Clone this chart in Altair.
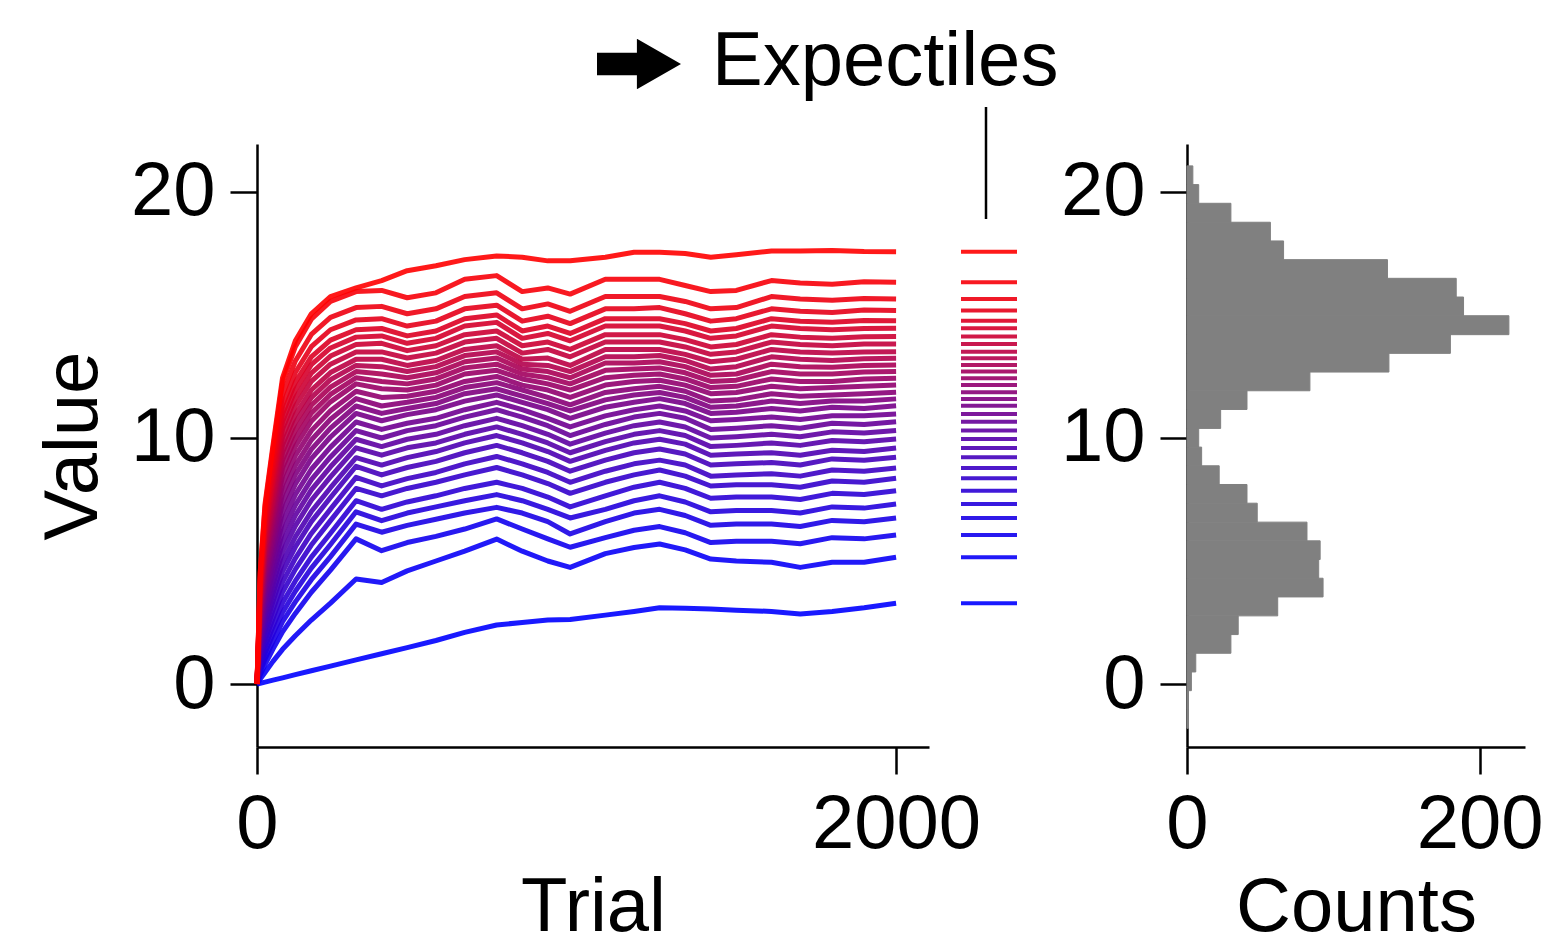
import altair as alt
import pandas as pd

# ---------------- data ----------------
TRIALS = [0, 10, 25, 50, 80, 120, 170, 230, 310, 390, 470, 560, 650, 750, 830,
          910, 980, 1090, 1180, 1260, 1340, 1420, 1500, 1610, 1700, 1800, 1900, 2000]

LINES = [
    [0, 0.03, 0.08, 0.16, 0.25, 0.38, 0.54, 0.73, 0.98, 1.23, 1.48, 1.77, 2.1, 2.4, 2.5, 2.6, 2.62, 2.8, 2.95, 3.1, 3.08, 3.05, 3.0, 2.95, 2.85, 2.95, 3.1, 3.28],
    [0, 0.20, 0.47, 0.92, 1.41, 1.96, 2.60, 3.29, 4.27, 4.13, 4.6, 5.0, 5.4, 5.89, 5.4, 5.0, 4.74, 5.3, 5.55, 5.69, 5.45, 5.08, 5.0, 4.95, 4.74, 4.95, 4.95, 5.15],
    [0, 0.37, 0.79, 1.42, 2.12, 2.87, 3.73, 4.63, 5.9, 5.42, 5.75, 6.0, 6.3, 6.71, 6.3, 5.9, 5.56, 5.95, 6.25, 6.4, 6.15, 5.75, 5.8, 5.8, 5.7, 5.95, 5.9, 6.06],
    [0, 0.51, 1.01, 1.73, 2.53, 3.34, 4.24, 5.18, 6.5, 6.17, 6.45, 6.7, 6.95, 7.18, 6.95, 6.6, 6.10, 6.6, 6.95, 7.1, 6.85, 6.45, 6.5, 6.5, 6.4, 6.65, 6.6, 6.75],
    [0, 0.65, 1.24, 2.03, 2.91, 3.77, 4.71, 5.67, 7.0, 6.64, 6.95, 7.2, 7.45, 7.7, 7.45, 7.1, 6.75, 7.1, 7.45, 7.65, 7.4, 7.0, 7.05, 7.05, 6.95, 7.2, 7.15, 7.32],
    [0, 0.80, 1.47, 2.34, 3.30, 4.19, 5.16, 6.13, 7.45, 7.1, 7.4, 7.65, 7.95, 8.2, 7.95, 7.6, 7.2, 7.65, 8.0, 8.2, 7.95, 7.55, 7.6, 7.6, 7.5, 7.75, 7.7, 7.86],
    [0, 0.96, 1.73, 2.67, 3.73, 4.66, 5.65, 6.64, 7.95, 7.65, 7.95, 8.2, 8.5, 8.8, 8.5, 8.15, 7.75, 8.2, 8.5, 8.7, 8.45, 8.05, 8.1, 8.1, 8.0, 8.25, 8.2, 8.36],
    [0, 1.12, 1.98, 3.01, 4.14, 5.11, 6.12, 7.11, 8.4, 8.05, 8.35, 8.6, 8.95, 9.25, 8.95, 8.6, 8.2, 8.65, 8.95, 9.1, 8.9, 8.45, 8.5, 8.55, 8.45, 8.7, 8.65, 8.78],
    [0, 1.29, 2.25, 3.35, 4.57, 5.57, 6.60, 7.58, 8.85, 8.5, 8.8, 9.05, 9.4, 9.7, 9.4, 9.05, 8.65, 9.1, 9.4, 9.55, 9.35, 8.9, 8.95, 9.0, 8.9, 9.15, 9.1, 9.22],
    [0, 1.45, 2.50, 3.66, 4.96, 5.98, 7.01, 7.98, 9.2, 8.9, 9.2, 9.45, 9.8, 10.1, 9.8, 9.45, 9.05, 9.5, 9.8, 9.95, 9.75, 9.3, 9.35, 9.4, 9.3, 9.5, 9.45, 9.59],
    [0, 1.62, 2.77, 4.00, 5.38, 6.43, 7.47, 8.42, 9.6, 9.3, 9.6, 9.8, 10.15, 10.45, 10.15, 9.8, 9.4, 9.85, 10.15, 10.3, 10.1, 9.65, 9.7, 9.8, 9.7, 9.9, 9.85, 9.96],
    [0, 1.79, 3.02, 4.33, 5.78, 6.85, 7.89, 8.83, 9.95, 9.65, 9.95, 10.15, 10.5, 10.8, 10.5, 10.15, 9.75, 10.2, 10.5, 10.65, 10.45, 10.0, 10.05, 10.15, 10.05, 10.25, 10.2, 10.30],
    [0, 1.96, 3.29, 4.65, 6.19, 7.27, 8.31, 9.23, 10.3, 10.0, 10.3, 10.5, 10.85, 11.15, 10.85, 10.5, 10.1, 10.55, 10.85, 11.0, 10.8, 10.35, 10.4, 10.5, 10.4, 10.6, 10.55, 10.66],
    [0, 2.13, 3.55, 4.98, 6.59, 7.70, 8.73, 9.63, 10.65, 10.35, 10.6, 10.8, 11.15, 11.45, 11.15, 10.8, 10.45, 10.9, 11.15, 11.3, 11.1, 10.7, 10.75, 10.85, 10.75, 10.9, 10.9, 10.98],
    [0, 2.30, 3.81, 5.31, 7.00, 8.12, 9.16, 10.04, 11.0, 10.7, 10.95, 11.15, 11.5, 11.75, 11.45, 11.15, 10.8, 11.25, 11.45, 11.6, 11.4, 11.0, 11.05, 11.2, 11.1, 11.25, 11.2, 11.31],
    [0, 2.46, 4.06, 5.62, 7.37, 8.51, 9.54, 10.40, 11.3, 11.0, 11.2, 11.4, 11.8, 12.0, 11.7, 11.4, 11.1, 11.55, 11.75, 11.85, 11.65, 11.25, 11.3, 11.5, 11.4, 11.5, 11.5, 11.59],
    [0, 2.62, 4.30, 5.92, 7.74, 8.89, 9.92, 10.76, 11.6, 11.3, 11.45, 11.65, 12.05, 12.25, 11.95, 11.65, 11.35, 11.85, 12.0, 12.1, 11.9, 11.5, 11.55, 11.8, 11.7, 11.75, 11.8, 11.86],
    [0, 2.78, 4.54, 6.22, 8.11, 9.28, 10.30, 11.11, 11.9, 11.65, 11.7, 11.9, 12.3, 12.5, 12.15, 11.95, 11.65, 12.15, 12.3, 12.35, 12.15, 11.8, 11.85, 12.1, 12.0, 12.05, 12.1, 12.15],
    [0, 2.93, 4.78, 6.52, 8.48, 9.66, 10.68, 11.47, 12.2, 12.0, 11.95, 12.15, 12.6, 12.75, 12.4, 12.2, 11.95, 12.45, 12.55, 12.6, 12.4, 12.05, 12.1, 12.4, 12.3, 12.3, 12.4, 12.43],
    [0, 3.07, 4.99, 6.78, 8.80, 9.99, 11.01, 11.77, 12.45, 12.3, 12.2, 12.4, 12.85, 13.0, 12.6, 12.45, 12.2, 12.75, 12.8, 12.85, 12.65, 12.3, 12.35, 12.7, 12.6, 12.6, 12.68, 12.70],
    [0, 3.20, 5.20, 7.04, 9.11, 10.32, 11.33, 12.07, 12.7, 12.6, 12.45, 12.65, 13.1, 13.25, 12.8, 12.7, 12.45, 13.05, 13.05, 13.1, 12.9, 12.55, 12.6, 13.0, 12.9, 12.88, 12.95, 12.97],
    [0, 3.34, 5.40, 7.29, 9.42, 10.64, 11.64, 12.37, 12.95, 12.9, 12.7, 12.9, 13.35, 13.5, 13.0, 12.95, 12.7, 13.3, 13.3, 13.35, 13.15, 12.8, 12.9, 13.3, 13.2, 13.15, 13.22, 13.24],
    [0, 3.46, 5.60, 7.53, 9.72, 10.95, 11.95, 12.66, 13.2, 13.2, 12.95, 13.15, 13.6, 13.75, 13.2, 13.25, 12.95, 13.6, 13.6, 13.6, 13.4, 13.1, 13.2, 13.6, 13.5, 13.45, 13.5, 13.51],
    [0, 3.60, 5.81, 7.80, 10.05, 11.30, 12.30, 13.00, 13.5, 13.5, 13.25, 13.45, 13.9, 14.05, 13.45, 13.6, 13.3, 13.9, 13.9, 13.9, 13.7, 13.4, 13.5, 13.9, 13.8, 13.75, 13.82, 13.82],
    [0, 3.73, 6.01, 8.05, 10.37, 11.63, 12.64, 13.33, 13.8, 13.85, 13.55, 13.75, 14.2, 14.35, 13.75, 13.9, 13.6, 14.2, 14.2, 14.2, 14.0, 13.7, 13.8, 14.2, 14.1, 14.05, 14.12, 14.13],
    [0, 3.85, 6.20, 8.30, 10.67, 11.96, 12.98, 13.66, 14.1, 14.15, 13.85, 14.05, 14.55, 14.7, 14.05, 14.25, 13.95, 14.55, 14.55, 14.55, 14.35, 14.05, 14.15, 14.55, 14.45, 14.4, 14.45, 14.46],
    [0, 3.97, 6.39, 8.53, 10.97, 12.27, 13.30, 13.98, 14.4, 14.45, 14.15, 14.35, 14.85, 15.0, 14.35, 14.55, 14.25, 14.85, 14.85, 14.85, 14.65, 14.35, 14.45, 14.85, 14.75, 14.7, 14.78, 14.77],
    [0, 4.11, 6.61, 8.82, 11.33, 12.66, 13.71, 14.40, 14.8, 14.85, 14.55, 14.75, 15.25, 15.4, 14.75, 14.95, 14.65, 15.25, 15.25, 15.3, 15.05, 14.75, 14.85, 15.25, 15.15, 15.1, 15.2, 15.18],
    [0, 4.27, 6.86, 9.15, 11.75, 13.13, 14.21, 14.90, 15.3, 15.35, 15.05, 15.25, 15.75, 15.9, 15.25, 15.45, 15.15, 15.75, 15.75, 15.75, 15.55, 15.25, 15.3, 15.75, 15.65, 15.6, 15.67, 15.65],
    [0, 4.46, 7.17, 9.56, 12.27, 13.71, 14.83, 15.55, 15.95, 16.0, 15.7, 15.9, 16.45, 16.6, 15.95, 16.1, 15.85, 16.45, 16.45, 16.45, 16.2, 15.95, 16.0, 16.4, 16.3, 16.25, 16.35, 16.33],
    [0, 4.55, 7.3, 9.7, 12.45, 13.95, 15.05, 15.75, 16.1, 16.4, 16.8, 17.0, 17.25, 17.4, 17.35, 17.2, 17.2, 17.35, 17.55, 17.55, 17.5, 17.35, 17.45, 17.6, 17.6, 17.62, 17.58, 17.57],
]

EXPECTILES = [3.28, 5.15, 6.06, 6.75, 7.32, 7.86, 8.36, 8.78, 9.22, 9.59, 9.96, 10.30,
              10.66, 10.98, 11.31, 11.59, 11.86, 12.15, 12.43, 12.70, 12.97, 13.24,
              13.51, 13.82, 14.13, 14.46, 14.77, 15.18, 15.65, 16.33, 17.57]

HIST_EDGES = [21.06, 20.30, 19.54, 18.77, 18.01, 17.25, 16.49, 15.73, 14.97, 14.20,
              13.44, 12.68, 11.92, 11.16, 10.39, 9.63, 8.87, 8.11, 7.35, 6.58, 5.82,
              5.06, 4.30, 3.54, 2.77, 2.01, 1.25, 0.49, -0.27, -1.04, -1.80]
HIST_COUNTS = [4, 8, 30, 57, 66, 137, 184, 189, 220, 180, 138, 84, 41, 23, 8, 10,
               22, 41, 48, 82, 91, 90, 93, 62, 35, 30, 6, 3, 1, 1]

TITLE_TEXT = "Expectiles"

# ---------------- tables ----------------
rows = []
for k, series in enumerate(LINES, start=1):
    for t, v in zip(TRIALS, series):
        rows.append({"trial": t, "value": v, "k": k})
df_lines = pd.DataFrame(rows)

df_exp = pd.DataFrame({"value": EXPECTILES, "k": list(range(1, len(EXPECTILES) + 1))})

df_hist = pd.DataFrame({
    "hi": HIST_EDGES[:-1],
    "lo": HIST_EDGES[1:],
    "count": HIST_COUNTS,
})

FONT = "Liberation Sans"
FS = 76
H = 603

y_dom = [-2.56, 21.95]
color_scale = alt.Scale(domain=[1, len(EXPECTILES)], range=["#0000ff", "#ff0000"], interpolate="rgb")

# ---------------- panel A: learning curves ----------------
lines = alt.Chart(df_lines).mark_line(strokeWidth=5, opacity=0.9, strokeJoin="round").encode(
    x=alt.X("trial:Q", scale=alt.Scale(domain=[0, 2103], nice=False),
            axis=alt.Axis(values=[0, 2000], format="d", labelLimit=0, title="Trial",
                          labelFlush=False, labelPadding=13, titlePadding=8)),
    y=alt.Y("value:Q", scale=alt.Scale(domain=y_dom, nice=False, zero=False),
            axis=alt.Axis(values=[0, 10, 20], title="Value", labelPadding=15,
                          titlePadding=18)),
    color=alt.Color("k:Q", scale=color_scale, legend=None),
    detail="k:N",
).properties(width=672, height=H)

# ---------------- panel B: final expectiles ----------------
ticks = alt.Chart(df_exp).mark_rule(strokeWidth=4, opacity=0.9).encode(
    y=alt.Y("value:Q", scale=alt.Scale(domain=y_dom, nice=False, zero=False), axis=None),
    x=alt.value(22), x2=alt.value(78),
    color=alt.Color("k:Q", scale=color_scale, legend=None),
)
title_df = pd.DataFrame({"label": [TITLE_TEXT]})
label = alt.Chart(title_df).mark_text(
    font=FONT, fontSize=FS, align="left", baseline="alphabetic", color="black"
).encode(text="label:N", x=alt.value(-227), y=alt.value(-59))
arrow = alt.Chart(title_df).mark_point(
    shape="M-1,-0.27 L-0.05,-0.27 L-0.05,-0.6 L1,0 L-0.05,0.6 L-0.05,0.27 L-1,0.27 Z",
    filled=True, color="black", opacity=1, size=7056, strokeWidth=0
).encode(x=alt.value(-300), y=alt.value(-80))
vline = alt.Chart(title_df).mark_rule(color="black", strokeWidth=2.5).encode(
    x=alt.value(47), y=alt.value(-37), y2=alt.value(75)
)
strip = alt.layer(ticks, vline, arrow, label).properties(width=238, height=H)

# ---------------- panel C: histogram ----------------
hist = alt.Chart(df_hist).mark_rect(color="#808080", stroke="#808080", strokeWidth=1).encode(
    y=alt.Y("lo:Q", scale=alt.Scale(domain=y_dom, nice=False, zero=False),
            axis=alt.Axis(values=[0, 10, 20], title=None, labelPadding=15)),
    y2="hi:Q",
    x=alt.X("count:Q", scale=alt.Scale(domain=[0, 231], nice=False),
            axis=alt.Axis(values=[0, 200], format="d", title="Counts", labelFlush=False,
                          labelPadding=13, titlePadding=8)),
    x2=alt.datum(0),
).properties(width=338, height=H)

chart = alt.hconcat(lines, strip, hist, spacing=10, bounds="flush").configure_axis(
    grid=False,
    domainColor="black", domainWidth=2.5,
    tickColor="black", tickWidth=2.5, tickSize=27,
    labelFont=FONT, labelFontSize=FS, labelColor="black",
    titleFont=FONT, titleFontSize=FS, titleColor="black", titleFontWeight="normal",
).configure_view(strokeWidth=0).properties(
    padding={"left": 35, "top": 24, "right": 5, "bottom": 5}
)

chart.save("out.html", embed_options={"renderer": "svg", "actions": False})
